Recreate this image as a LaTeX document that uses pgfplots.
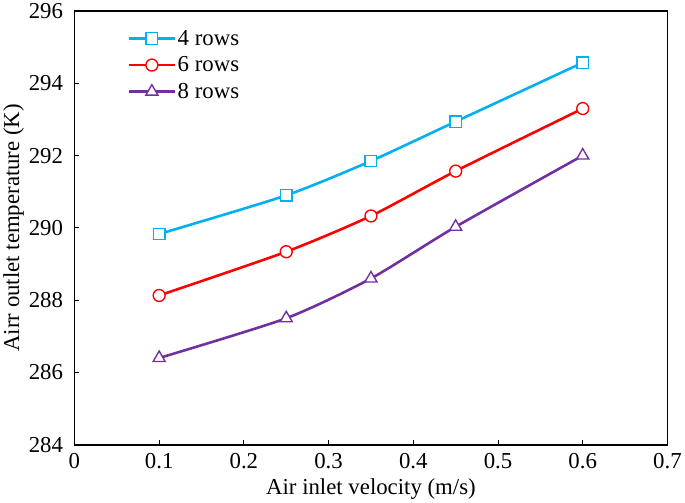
\documentclass[border=0pt]{standalone}
\usepackage{pgfplots}
\pgfplotsset{compat=1.18}
\usepackage{fontspec}
\setmainfont{Liberation Serif}

\definecolor{cblue}{RGB}{0,176,240}
\definecolor{cred}{RGB}{255,0,0}
\definecolor{cpurple}{RGB}{112,48,160}

\begin{document}
\begin{tikzpicture}
\begin{axis}[
    scale only axis,
    width=596bp, height=436bp,
    xmin=0, xmax=0.7,
    ymin=284, ymax=296,
    xtick={0,0.1,...,0.7},
    ytick={284,286,...,296},
    xticklabels={0,0.1,0.2,0.3,0.4,0.5,0.6,0.7},
    tick align=inside,
    tick pos=left,
    major tick length=5bp,
    axis line style={line width=1.6pt},
    tick style={line width=0.8pt, black},
    font=\fontsize{23}{26}\selectfont,
    tick label style={font=\fontsize{23}{26}\selectfont},
    /pgf/number format/assume math mode=true,
    xticklabel style={yshift=-5bp},
    yticklabel style={xshift=-8bp},
    xlabel={Air inlet velocity (m/s)},
    ylabel={Airr outlet temperature (K)},
    xlabel style={yshift=-3bp},
    ylabel style={yshift=-2bp},
    legend style={draw=none, fill=none, at={(0.085,0.965)}, anchor=north west,
      font=\fontsize{23}{26}\selectfont, row sep=6bp,
      nodes={inner sep=2bp}},
    legend cell align=left,
    legend image code/.code={
      \draw[mark repeat=2, mark phase=2, line width=2.6pt]
        plot coordinates {(0cm,0cm) (0.8cm,0cm) (1.6cm,0cm)};},
    every axis plot/.append style={line width=2.6pt, smooth, tension=0.4},
    mark options={solid, fill=white, line width=1.4pt},
]
\addplot[color=cblue, mark=square*, mark size=5.8bp] coordinates {
    (0.1,289.83) (0.25,290.90) (0.35,291.85) (0.45,292.94) (0.6,294.57)
};
\addlegendentry{4 rows}
\addplot[color=cred, mark=*, mark size=6bp] coordinates {
    (0.1,288.13) (0.25,289.34) (0.35,290.33) (0.45,291.57) (0.6,293.30)
};
\addlegendentry{6 rows}
\addplot[color=cpurple, mark=triangle*, mark size=7bp] coordinates {
    (0.1,286.40) (0.25,287.50) (0.35,288.60) (0.45,290.03) (0.6,292.00)
};
\addlegendentry{8 rows}
\end{axis}
\end{tikzpicture}
\end{document}
